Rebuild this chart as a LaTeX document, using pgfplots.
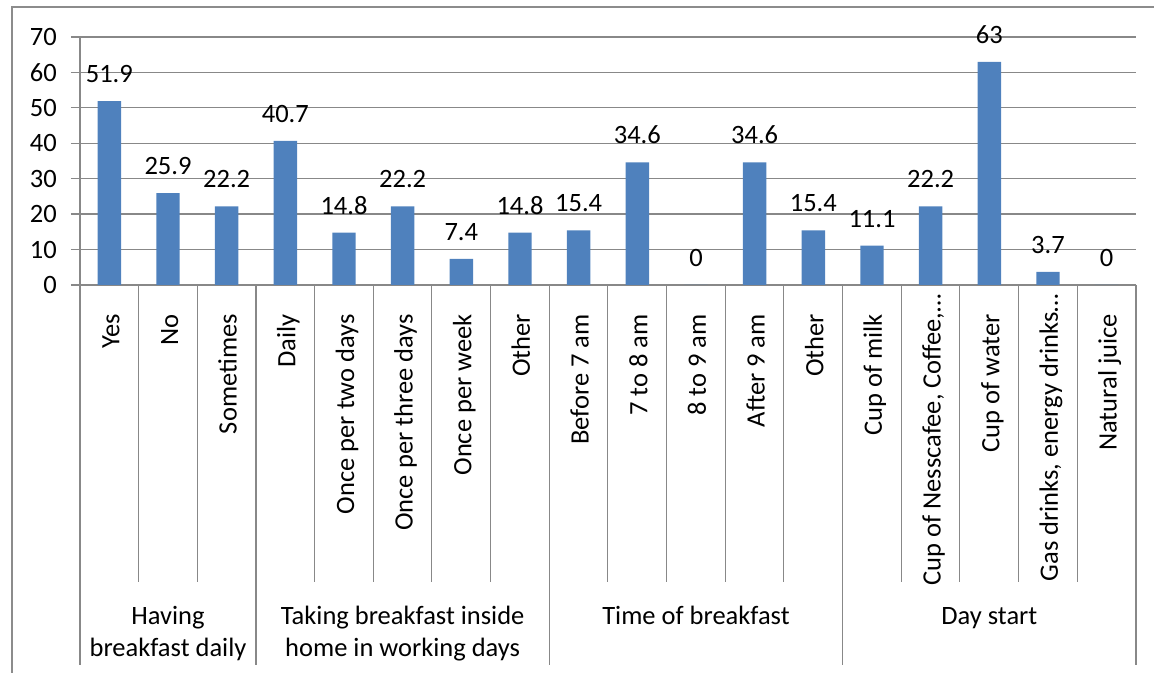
\documentclass[border=0pt]{standalone}
\usepackage{fontspec}
\setmainfont{Carlito}
\usepackage{pgfplots}
\pgfplotsset{compat=1.18}
\definecolor{barblue}{HTML}{4F81BD}
\definecolor{gridgray}{HTML}{888888}
\definecolor{framegray}{HTML}{8C8C8C}
\newcommand\chartfont{\fontsize{26.5bp}{32bp}\selectfont}

\pgfplotstableread{
x   y
0   51.9
1   25.9
2   22.2
3   40.7
4   14.8
5   22.2
6   7.4
7   14.8
8   15.4
9   34.6
10  0
11  34.6
12  15.4
13  11.1
14  22.2
15  63
16  3.7
17  0
}\breakfastdata

\begin{document}
\begin{tikzpicture}[x=1bp,y=1bp]
\useasboundingbox (0,0) rectangle (1154,673);
% outer chart frame
\draw[framegray, line width=2.5bp] (12,-5) rectangle (1170,666);
\begin{axis}[
  at={(80bp,388bp)}, anchor=south west,
  scale only axis, width=1056bp, height=248bp,
  clip=false,
  xmin=-0.5, xmax=17.5, ymin=0, ymax=70,
  ytick={0,10,...,70},
  xtick={0,...,17},
  xticklabels={Yes, No, Sometimes, Daily, Once per two days,
    Once per three days, Once per week, Other, Before 7 am,
    7 to 8 am, 8 to 9 am, After 9 am, Other, Cup of milk,
    {Cup of Nesscafee, Coffee,…\kern-20bp}, Cup of water,
    {Gas drinks, energy drinks…\kern-20bp}, Natural juice},
  axis x line*=bottom, axis y line*=left,
  axis line style={gridgray, line width=1.3bp, -},
  ymajorgrids, major grid style={gridgray, line width=1.3bp},
  tick align=outside, major tick length=9bp,
  xtick style={draw=none},
  ytick style={gridgray, line width=1.3bp},
  /pgf/number format/assume math mode=true,
  yticklabel style={font=\chartfont, inner sep=0pt, anchor=east, xshift=-14bp},
  xticklabel style={font=\chartfont, rotate=90, anchor=east, inner sep=0pt,
    text height=20bp, text depth=0pt},
  xticklabel shift=20bp,
  nodes near coords,
  every node near coord/.append style={font=\chartfont, anchor=base,
    inner sep=0pt, yshift=18.5bp, text=black},
]
\addplot[ybar, bar width=0.4, bar shift=0pt, fill=barblue, draw=none]
  table[x=x, y=y] {\breakfastdata};

% category separators
\foreach \s in {0.5,1.5,3.5,4.5,5.5,6.5,8.5,9.5,10.5,11.5,13.5,14.5,15.5,16.5}{
  \edef\tmp{\noexpand\draw[gridgray, line width=1bp] (axis cs:\s,0) -- ++(0bp,-297bp);}\tmp
}
% group separators
\foreach \s in {-0.5,2.5,7.5,12.5,17.5}{
  \edef\tmp{\noexpand\draw[gridgray, line width=1.3bp] (axis cs:\s,0) -- ++(0bp,-380bp);}\tmp
}
% group labels
\node[font=\chartfont, anchor=base, inner sep=0pt] at ([yshift=-339.3bp]axis cs:1,0) {Having};
\node[font=\chartfont, anchor=base, inner sep=0pt] at ([yshift=-371.7bp]axis cs:1,0) {breakfast daily};
\node[font=\chartfont, anchor=base, inner sep=0pt] at ([yshift=-339.3bp]axis cs:5,0) {Taking breakfast inside};
\node[font=\chartfont, anchor=base, inner sep=0pt] at ([yshift=-371.7bp]axis cs:5,0) {home in working days};
\node[font=\chartfont, anchor=base, inner sep=0pt] at ([yshift=-339.3bp]axis cs:10,0) {Time of breakfast};
\node[font=\chartfont, anchor=base, inner sep=0pt] at ([yshift=-339.3bp]axis cs:15,0) {Day start};
\end{axis}
\end{tikzpicture}
\end{document}
